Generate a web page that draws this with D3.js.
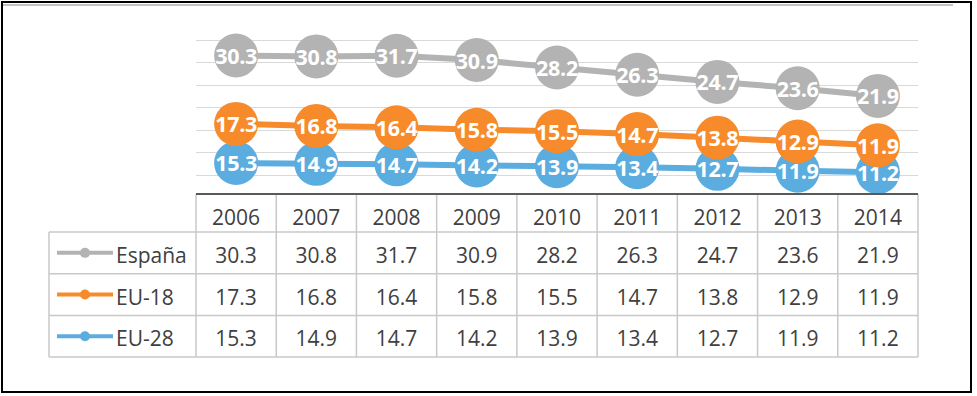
<!DOCTYPE html>
<meta charset="utf-8">

<head>
    <style>
    body { margin: 0; background: #fff; }
    svg { display: block; font-family: "Open Sans", sans-serif; }
    .grid line { stroke: #d9d9d9; stroke-width: 1; shape-rendering: crispEdges; }
    .grid path { display: none; }
    .cell { fill: #404040; font-size: 21px; text-anchor: middle; }
    .dlabel { fill: #fff; font-size: 21.5px; font-weight: 700; text-anchor: middle; letter-spacing: -0.3px; }
    </style>
</head>

<body>

<script src="https://d3js.org/d3.v7.min.js"></script>

<script>
//Data
var years = ["2006", "2007", "2008", "2009", "2010", "2011", "2012", "2013", "2014"];
var espana = [30.3, 30.8, 31.7, 30.9, 28.2, 26.3, 24.7, 23.6, 21.9];
var eu18 = [17.3, 16.8, 16.4, 15.8, 15.5, 14.7, 13.8, 12.9, 11.9];
var eu28 = [15.3, 14.9, 14.7, 14.2, 13.9, 13.4, 12.7, 11.9, 11.2];
var seriesNames = ["España", "EU-18", "EU-28"];
var seriesColors = ["#b3b3b3", "#f78b2b", "#5bacdf"];
var gridValues = [10, 20, 30, 40, 50, 60, 70];

//Size parameters
var width = 977, height = 396;
var plotLeft = 196, plotRight = 918;
var tableTop = 194, headerH = 38, rowH = 41.7;
var legendLeft = 49;

var svg = d3.select("body").append("svg")
    .attr("width", width)
    .attr("height", height);

//Scales
var x = d3.scaleBand().domain(years).range([plotLeft, plotRight]);
var y = d3.scaleLinear().domain([0, 70]).range([197.5, 39.5]);

//Stacked values (EU-28 at the bottom, España on top)
var rows = years.map(function(yr, i) {
    return { year: yr, "España": espana[i], "EU-18": eu18[i], "EU-28": eu28[i] };
});
var stack = d3.stack().keys(["EU-28", "EU-18", "España"]);
var stacked = stack(rows);

//Outer frame
svg.append("rect")
    .attr("x", 2).attr("y", 2)
    .attr("width", 969).attr("height", 390)
    .style("fill", "none").style("stroke", "#000").style("stroke-width", 2);
svg.append("line")
    .attr("x1", 3).attr("x2", 953).attr("y1", 5).attr("y2", 5)
    .style("stroke", "#c4c4c4").style("stroke-width", 2);

//Gridlines
svg.append("g")
    .attr("class", "grid")
    .attr("transform", "translate(" + plotLeft + ",0)")
    .call(d3.axisLeft(y).tickValues(gridValues).tickSize(-(plotRight - plotLeft)).tickFormat(""));

//Lines, markers and labels
var line = d3.line()
    .x(function(d) { return x(d.data.year) + x.bandwidth() / 2; })
    .y(function(d) { return y(d[1]); });

stacked.forEach(function(s) {
    var color = seriesColors[seriesNames.indexOf(s.key)];
    svg.append("path")
        .datum(s)
        .attr("d", line)
        .style("fill", "none")
        .style("stroke", color)
        .style("stroke-width", 6);
});

stacked.forEach(function(s) {
    var color = seriesColors[seriesNames.indexOf(s.key)];
    var g = svg.append("g");
    g.selectAll("circle")
        .data(s)
        .enter().append("circle")
        .attr("cx", function(d) { return x(d.data.year) + x.bandwidth() / 2; })
        .attr("cy", function(d) { return y(d[1]); })
        .attr("r", 22)
        .style("fill", color);
    g.selectAll("text")
        .data(s)
        .enter().append("text")
        .attr("class", "dlabel")
        .attr("x", function(d) { return x(d.data.year) + x.bandwidth() / 2; })
        .attr("y", function(d) { return y(d[1]) + 8.5; })
        .text(function(d) { return d.data[s.key].toFixed(1); });
});

//Data table
var tableBottom = tableTop + headerH + rowH * 3;
var tg = svg.append("g").style("stroke", "#c8c8c8").style("stroke-width", 1.5);

//horizontal rules
for (var r = 0; r <= 3; r++) {
    var ry = tableTop + headerH + rowH * r;
    tg.append("line").attr("x1", legendLeft).attr("x2", plotRight).attr("y1", ry).attr("y2", ry);
}
//vertical rules
x.domain().forEach(function(yr) {
    tg.append("line").attr("x1", x(yr)).attr("x2", x(yr)).attr("y1", tableTop).attr("y2", tableBottom);
});
tg.append("line").attr("x1", plotRight).attr("x2", plotRight).attr("y1", tableTop).attr("y2", tableBottom);
tg.append("line").attr("x1", legendLeft).attr("x2", legendLeft).attr("y1", tableTop + headerH).attr("y2", tableBottom);

//axis line on top of table
svg.append("line")
    .attr("x1", plotLeft).attr("x2", plotRight)
    .attr("y1", tableTop).attr("y2", tableTop)
    .style("stroke", "#595959").style("stroke-width", 2);

//header years
svg.selectAll(".yearlabel")
    .data(years)
    .enter().append("text")
    .attr("class", "cell")
    .attr("x", function(d) { return x(d) + x.bandwidth() / 2; })
    .attr("y", tableTop + 31)
    .text(function(d) { return d; });

//value rows
var tableValues = [espana, eu18, eu28];
tableValues.forEach(function(vals, r) {
    var top = tableTop + headerH + rowH * r;
    svg.selectAll(".row" + r)
        .data(vals)
        .enter().append("text")
        .attr("class", "cell")
        .attr("x", function(d, i) { return x(years[i]) + x.bandwidth() / 2; })
        .attr("y", top + 31)
        .text(function(d) { return d.toFixed(1); });

    //legend key
    var cy = top + rowH / 2;
    svg.append("line")
        .attr("x1", 57).attr("x2", 113).attr("y1", cy).attr("y2", cy)
        .style("stroke", seriesColors[r]).style("stroke-width", 4);
    svg.append("circle")
        .attr("cx", 85).attr("cy", cy).attr("r", 5)
        .style("fill", seriesColors[r]);
    svg.append("text")
        .attr("class", "cell")
        .style("text-anchor", "start")
        .attr("x", 116)
        .attr("y", top + 31)
        .text(seriesNames[r]);
});
</script>
</body>
